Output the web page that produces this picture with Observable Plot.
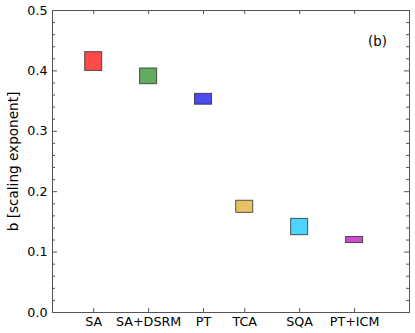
<!DOCTYPE html>
<html><head><meta charset="utf-8">
<script src="https://cdn.jsdelivr.net/npm/d3@7"></script>
<script src="https://cdn.jsdelivr.net/npm/@observablehq/plot@0.6"></script>
<style>body{margin:0;background:#fff;} svg{display:block;}</style>
</head><body><div id="chart"></div>
<script>
const categories = ["SA", "SA+DSRM", "PT", "TCA", "SQA", "PT+ICM"];
const positions = [1, 2, 3, 3.75, 4.75, 5.75];
const lows  = [0.400, 0.378, 0.344, 0.165, 0.128, 0.115];
const highs = [0.431, 0.404, 0.362, 0.185, 0.155, 0.125];
const colors = ["#ff4a4a", "#62ac62", "#4a4aef", "#e6c264", "#4cd4ff", "#cc4ccc"];
const yMajor = [0, 0.1, 0.2, 0.3, 0.4, 0.5];
const yMinor = [0.02,0.04,0.06,0.08,0.12,0.14,0.16,0.18,0.22,0.24,0.26,0.28,0.32,0.34,0.36,0.38,0.42,0.44,0.46,0.48];
const yLabel = "b [scaling exponent]";
const panelTag = "(b)";

const W = 415, H = 333;
const mL = 52, mR = 6, mT = 10, mB = 21;
const xDom = [0.25, 6.75], yDom = [0, 0.5];
const ux = (xDom[1] - xDom[0]) / (W - mL - mR);   // data units per px
const uy = (yDom[1] - yDom[0]) / (H - mT - mB);
const hw = 8.5 * ux;

const rows = categories.map((c, i) => ({cat: c, pos: positions[i], lo: lows[i], hi: highs[i], color: colors[i]}));
const catAt = new Map(positions.map((p, i) => [p, categories[i]]));
const tickColor = "#555";

const chart = Plot.plot({
  width: W, height: H,
  marginLeft: mL, marginRight: mR, marginTop: mT, marginBottom: mB,
  style: {fontFamily: "DejaVu Sans", fontSize: "12.7px", color: "#000", background: "#fff"},
  x: {domain: xDom},
  y: {domain: yDom},
  marks: [
    Plot.rect(rows, {x1: d => d.pos - hw, x2: d => d.pos + hw, y1: "lo", y2: "hi", fill: "color", stroke: "#222", strokeOpacity: 0.75, strokeWidth: 1}),
    // y ticks, left and right, inward
    Plot.ruleY(yMajor, {y: d => d, x1: xDom[0], x2: xDom[0] + 5 * ux, stroke: tickColor}),
    Plot.ruleY(yMajor, {y: d => d, x1: xDom[1] - 5 * ux, x2: xDom[1], stroke: tickColor}),
    Plot.ruleY(yMinor, {y: d => d, x1: xDom[0], x2: xDom[0] + 3 * ux, stroke: tickColor}),
    Plot.ruleY(yMinor, {y: d => d, x1: xDom[1] - 3 * ux, x2: xDom[1], stroke: tickColor}),
    // x ticks, bottom and top, inward
    Plot.ruleX(positions, {x: d => d, y1: yDom[0], y2: yDom[0] + 4 * uy, stroke: tickColor}),
    Plot.ruleX(positions, {x: d => d, y1: yDom[1] - 4 * uy, y2: yDom[1], stroke: tickColor}),
    Plot.frame({stroke: tickColor}),
    Plot.axisY({ticks: yMajor, tickSize: 0, tickPadding: 5, tickFormat: d3.format(".1f"), label: null, fontSize: 12.7}),
    Plot.axisX({ticks: positions, tickSize: 0, tickPadding: 4, tickFormat: d => catAt.get(d), label: null, fontSize: 12.7}),
    Plot.text([yLabel], {text: d => d, frameAnchor: "left", dx: -39, rotate: -90, fontSize: 13.6, textAnchor: "middle"}),
    Plot.text([panelTag], {text: d => d, frameAnchor: "top-right", dx: -32, dy: 26, fontSize: 13.3, textAnchor: "middle"})
  ]
});
document.getElementById("chart").appendChild(chart);
</script>
</body></html>
